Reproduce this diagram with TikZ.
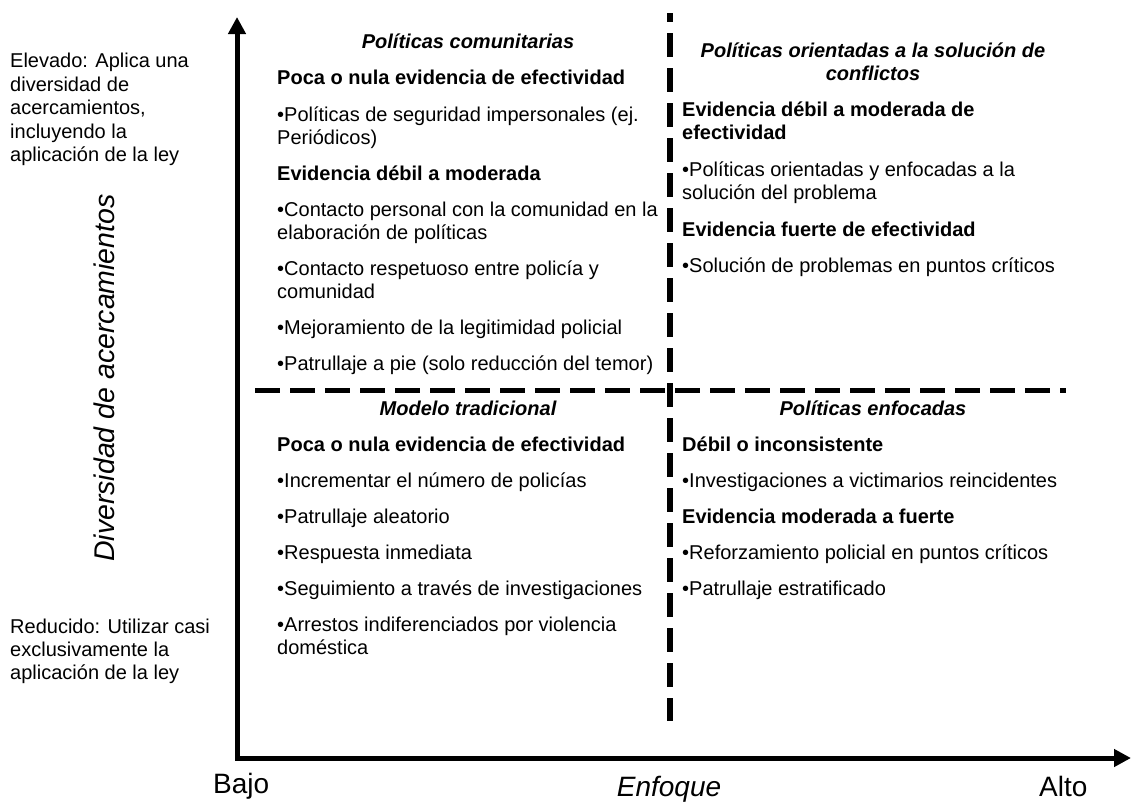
\documentclass[tikz,border=0pt]{standalone}
\usepackage{fontspec}
\setmainfont{Liberation Sans}
\usetikzlibrary{arrows.meta}
\tikzset{
  axisline/.style={line width=5pt, {Triangle[length=17pt,width=17pt]}-{Triangle[length=17pt,width=17pt]}},
  vdash/.style={line width=5.5pt, dash pattern=on 24pt off 11pt, dash phase=15pt},
  hdash/.style={line width=5pt, dash pattern=on 25pt off 10pt},
  txt/.style={anchor=base west, inner sep=0pt, font=\fontsize{20}{23}\selectfont},
  hd/.style={txt, font=\fontsize{20}{23}\selectfont\bfseries},
  ttl/.style={anchor=base, inner sep=0pt, font=\fontsize{20}{23}\selectfont\bfseries\itshape},
  side/.style={anchor=base west, inner sep=0pt, font=\fontsize{20}{23}\selectfont},
  big/.style={inner sep=0pt, font=\fontsize{28}{32}\selectfont}
}
\begin{document}
\begin{tikzpicture}[x=1pt,y=-1pt]
\useasboundingbox (0,0) rectangle (1131,803);
% axes
\coordinate (ytop) at (237,17);
\coordinate (orig) at (237,758);
\coordinate (xend) at (1131,758);
\draw[axisline] (ytop) -- (orig) -- (xend);
% dashed separators
\coordinate (vA) at (670,13);
\coordinate (vB) at (670,721);
\coordinate (hA) at (255,390);
\coordinate (hB) at (1066,390);
\draw[vdash] (vA) -- (vB);
\draw[hdash] (hA) -- (hB);
% axis labels
\node[big, anchor=base west] (bajo) at (213,793) {Bajo};
\node[big, anchor=base, font=\fontsize{28}{32}\selectfont\itshape] (enf) at (669,796) {Enfoque};
\node[big, anchor=base west] (alto) at (1039,796) {Alto};
\node[inner sep=0pt, rotate=90, font=\fontsize{28.5}{32}\selectfont\itshape] (ylab) at (104,378) {Diversidad de acercamientos};
% side labels
\node[side] (e1) at (10,67.5) {Elevado: Aplica una};
\node[side] (e2) at (10,91) {diversidad de};
\node[side] (e3) at (10,114.5) {acercamientos,};
\node[side] (e4) at (10,138) {incluyendo la};
\node[side] (e5) at (10,161.5) {aplicación de la ley};
\node[side] (r1) at (10,633) {Reducido: Utilizar casi};
\node[side] (r2) at (10,656) {exclusivamente la};
\node[side] (r3) at (10,679) {aplicación de la ley};
% top-left quadrant
\node[ttl] (tlT) at (468,48) {Políticas comunitarias};
\node[hd] (tl1) at (277,84) {Poca o nula evidencia de efectividad};
\node[txt] (tl2) at (277,121) {•Políticas de seguridad impersonales (ej.};
\node[txt] (tl3) at (277,144) {Periódicos)};
\node[hd] (tl4) at (277,180) {Evidencia débil a moderada};
\node[txt] (tl5) at (277,216) {•Contacto personal con la comunidad en la};
\node[txt] (tl6) at (277,239) {elaboración de políticas};
\node[txt] (tl7) at (277,275) {•Contacto respetuoso entre policía y};
\node[txt] (tl8) at (277,298) {comunidad};
\node[txt] (tl9) at (277,334) {•Mejoramiento de la legitimidad policial};
\node[txt] (tl10) at (277,370) {•Patrullaje a pie (solo reducción del temor)};
% top-right quadrant
\node[ttl] (trT1) at (873,57) {Políticas orientadas a la solución de};
\node[ttl] (trT2) at (873,80) {conflictos};
\node[hd] (tr1) at (682,116) {Evidencia débil a moderada de};
\node[hd] (tr2) at (682,139) {efectividad};
\node[txt] (tr3) at (682,176) {•Políticas orientadas y enfocadas a la};
\node[txt] (tr4) at (682,199) {solución del problema};
\node[hd] (tr5) at (682,236) {Evidencia fuerte de efectividad};
\node[txt] (tr6) at (682,272) {•Solución de problemas en puntos críticos};
% bottom-left quadrant
\node[ttl] (blT) at (468,415) {Modelo tradicional};
\node[hd] (bl1) at (277,451) {Poca o nula evidencia de efectividad};
\node[txt] (bl2) at (277,487) {•Incrementar el número de policías};
\node[txt] (bl3) at (277,523) {•Patrullaje aleatorio};
\node[txt] (bl4) at (277,559) {•Respuesta inmediata};
\node[txt] (bl5) at (277,595) {•Seguimiento a través de investigaciones};
\node[txt] (bl6) at (277,631) {•Arrestos indiferenciados por violencia};
\node[txt] (bl7) at (277,654) {doméstica};
% bottom-right quadrant
\node[ttl] (brT) at (873,415) {Políticas enfocadas};
\node[hd] (br1) at (682,451) {Débil o inconsistente};
\node[txt] (br2) at (682,487) {•Investigaciones a victimarios reincidentes};
\node[hd] (br3) at (682,523) {Evidencia moderada a fuerte};
\node[txt] (br4) at (682,559) {•Reforzamiento policial en puntos críticos};
\node[txt] (br5) at (682,595) {•Patrullaje estratificado};
\end{tikzpicture}
\end{document}
